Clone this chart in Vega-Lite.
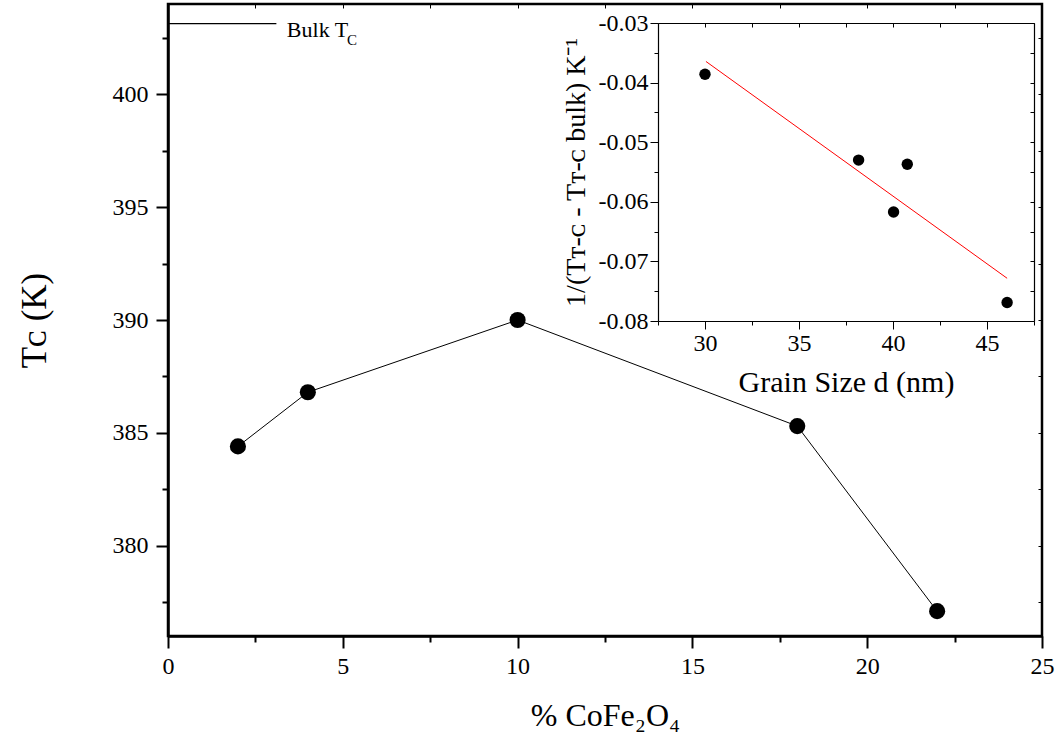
{
  "$schema": "https://vega.github.io/schema/vega-lite/v6.json",
  "width": 874,
  "height": 632,
  "autosize": {"type": "none"},
  "padding": {"left": 168, "top": 4, "right": 20, "bottom": 117},
  "background": "white",
  "config": {
    "font": "Liberation Serif",
    "style": {
      "guide-label": {"font": "Liberation Serif", "fill": "black"},
      "guide-title": {"font": "Liberation Serif", "fill": "black"}
    },
    "view": {"stroke": "black", "strokeWidth": 2.5},
    "axis": {
      "grid": false,
      "domainColor": "black",
      "tickColor": "black",
      "labelColor": "black",
      "titleColor": "black",
      "labelFont": "Liberation Serif",
      "titleFont": "Liberation Serif",
      "titleFontWeight": "normal",
      "labelFontWeight": "normal",
      "labelOverlap": false,
      "labelFlush": false
    },
    "text": {"font": "Liberation Serif", "fontWeight": "normal"}
  },
  "layer": [
    {
      "data": {
        "values": [
          {"pct": 2, "tc": 384.4},
          {"pct": 4, "tc": 386.8},
          {"pct": 10, "tc": 390.0},
          {"pct": 18, "tc": 385.3},
          {"pct": 22, "tc": 377.1}
        ]
      },
      "layer": [
        {
          "mark": {"type": "line", "color": "black", "strokeWidth": 1},
          "encoding": {
            "x": {
              "field": "pct", "type": "quantitative",
              "scale": {"domain": [0, 25], "nice": false, "zero": false},
              "axis": {
                "orient": "bottom",
                "values": [0, 5, 10, 15, 20, 25],
                "tickSize": 12, "tickWidth": 2, "domainWidth": 2.5,
                "labelFont": "Liberation Serif", "labelFontSize": 24, "labelPadding": 6,
                "title": "% CoFe₂O₄", "titleFontSize": 32, "titlePadding": 22
              }
            },
            "y": {
              "field": "tc", "type": "quantitative",
              "scale": {"domain": [376, 404], "nice": false, "zero": false},
              "axis": {
                "orient": "left",
                "values": [380, 385, 390, 395, 400],
                "tickSize": 12, "tickWidth": 2, "domainWidth": 2.5,
                "labelFont": "Liberation Serif", "labelFontSize": 24, "labelPadding": 8,
                "title": "Tᴄ (K)", "titleFontSize": 35, "titlePadding": 60
              }
            }
          }
        },
        {
          "mark": {"type": "circle", "color": "black", "opacity": 1, "size": 260},
          "encoding": {
            "x": {"field": "pct", "type": "quantitative", "axis": null},
            "y": {"field": "tc", "type": "quantitative", "axis": null}
          }
        },
        {
          "data": {"values": [{"pct": 0, "tc": 403.13}, {"pct": 3.1, "tc": 403.13}]},
          "mark": {"type": "line", "color": "black", "strokeWidth": 1.2},
          "encoding": {
            "x": {"field": "pct", "type": "quantitative", "axis": null},
            "y": {"field": "tc", "type": "quantitative", "axis": null}
          }
        },
        {
          "data": {"values": [{"label": "Bulk T"}]},
          "mark": {"type": "text", "font": "Liberation Serif", "fontWeight": "normal", "fontSize": 22, "align": "left", "baseline": "alphabetic", "color": "black"},
          "encoding": {
            "text": {"field": "label"},
            "x": {"datum": 3.4, "type": "quantitative", "axis": null},
            "y": {"datum": 402.55, "type": "quantitative", "axis": null}
          }
        },
        {
          "data": {"values": [{"label": "C"}]},
          "mark": {"type": "text", "font": "Liberation Serif", "fontWeight": "normal", "fontSize": 15, "align": "left", "baseline": "alphabetic", "color": "black"},
          "encoding": {
            "text": {"field": "label"},
            "x": {"datum": 5.12, "type": "quantitative", "axis": null},
            "y": {"datum": 402.2, "type": "quantitative", "axis": null}
          }
        },
        {
          "mark": {"type": "circle", "opacity": 0},
          "encoding": {
            "x": {
              "field": "pct", "type": "quantitative",
              "axis": {"orient": "bottom", "values": [2.5, 7.5, 12.5, 17.5, 22.5], "labels": false, "tickSize": 6, "tickWidth": 2, "domain": false, "title": null}
            },
            "y": {
              "field": "tc", "type": "quantitative",
              "axis": {"orient": "left", "values": [377.5, 382.5, 387.5, 392.5, 397.5, 402.5], "labels": false, "tickSize": 6, "tickWidth": 2, "domain": false, "title": null}
            }
          }
        },
        {
          "mark": {"type": "circle", "opacity": 0},
          "encoding": {
            "x": {
              "field": "pct", "type": "quantitative",
              "axis": {"orient": "top", "values": [2.5, 5, 7.5, 10, 12.5, 15, 17.5, 20, 22.5], "labels": false, "tickSize": -4, "tickWidth": 1, "domain": false, "title": null}
            },
            "y": {
              "field": "tc", "type": "quantitative",
              "axis": {"orient": "right", "values": [377.5, 380, 382.5, 385, 387.5, 390, 392.5, 395, 397.5, 400, 402.5], "labels": false, "tickSize": -4, "tickWidth": 1, "domain": false, "title": null}
            }
          }
        }
      ],
      "resolve": {"axis": {"x": "independent", "y": "independent"}}
    },
    {
      "data": {
        "values": [
          {"d": 30.0, "inv": -0.0386},
          {"d": 38.17, "inv": -0.0530},
          {"d": 40.03, "inv": -0.0617},
          {"d": 40.76, "inv": -0.0537},
          {"d": 46.07, "inv": -0.0769}
        ]
      },
      "layer": [
        {
          "mark": {"type": "circle", "color": "black", "opacity": 1, "size": 130},
          "encoding": {
            "x": {
              "field": "d", "type": "quantitative",
              "scale": {"domain": [27.5, 47.5], "range": [490, 866], "nice": false, "zero": false},
              "axis": {
                "orient": "bottom", "offset": -315,
                "values": [30, 35, 40, 45],
                "tickSize": 8, "tickWidth": 1, "domainWidth": 1.2,
                "labelFont": "Liberation Serif", "labelFontSize": 24, "labelPadding": 2,
                "title": "Grain Size d (nm)", "titleFontSize": 30, "titlePadding": 12
              }
            },
            "y": {
              "field": "inv", "type": "quantitative",
              "scale": {"domain": [-0.08, -0.03], "range": [317, 19], "nice": false, "zero": false},
              "axis": {
                "orient": "left", "offset": -490,
                "values": [-0.08, -0.07, -0.06, -0.05, -0.04, -0.03],
                "labelExpr": "replace(format(datum.value, '.2f'), '−', '-')",
                "tickSize": 8, "tickWidth": 1, "domainWidth": 1.2,
                "labelFont": "Liberation Serif", "labelFontSize": 24, "labelPadding": 2,
                "title": "1/(Tᴛ-ᴄ - Tᴛ-ᴄ bulk) K⁻¹", "titleFontSize": 28, "titlePadding": 8
              }
            }
          }
        },
        {
          "data": {"values": [{"d": 30.05, "inv": -0.03645}, {"d": 46.07, "inv": -0.07283}]},
          "mark": {"type": "line", "color": "#ff0000", "strokeWidth": 1},
          "encoding": {
            "x": {"field": "d", "type": "quantitative", "axis": null},
            "y": {"field": "inv", "type": "quantitative", "axis": null}
          }
        },
        {
          "mark": {"type": "circle", "opacity": 0},
          "encoding": {
            "x": {
              "field": "d", "type": "quantitative",
              "axis": {"orient": "bottom", "offset": -315, "values": [27.5, 32.5, 37.5, 42.5, 47.5], "labels": false, "tickSize": 4, "tickWidth": 1, "domain": false, "title": null}
            },
            "y": {
              "field": "inv", "type": "quantitative",
              "axis": {"orient": "left", "offset": -490, "values": [-0.075, -0.065, -0.055, -0.045, -0.035], "labels": false, "tickSize": 4, "tickWidth": 1, "domain": false, "title": null}
            }
          }
        },
        {
          "mark": {"type": "circle", "opacity": 0},
          "encoding": {
            "x": {
              "field": "d", "type": "quantitative",
              "axis": {"orient": "top", "offset": -19, "values": [27.5, 30, 32.5, 35, 37.5, 40, 42.5, 45, 47.5], "labels": false, "tickSize": -4, "tickWidth": 1, "domainWidth": 1.2, "title": null}
            },
            "y": {
              "field": "inv", "type": "quantitative",
              "axis": {"orient": "right", "offset": -8, "values": [-0.08, -0.075, -0.07, -0.065, -0.06, -0.055, -0.05, -0.045, -0.04, -0.035, -0.03], "labels": false, "tickSize": -4, "tickWidth": 1, "domainWidth": 1.2, "title": null}
            }
          }
        }
      ],
      "resolve": {"axis": {"x": "independent", "y": "independent"}}
    }
  ],
  "resolve": {"scale": {"x": "independent", "y": "independent"}}
}
